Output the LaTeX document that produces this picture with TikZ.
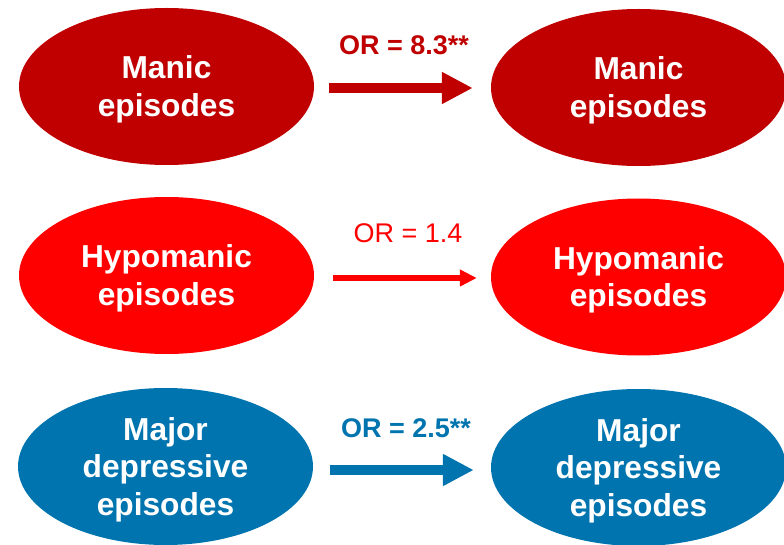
\documentclass[tikz,border=0pt]{standalone}
\usepackage{fontspec}
\setmainfont{Liberation Sans}
\usetikzlibrary{shapes.geometric,arrows.meta}
\definecolor{maniccol}{RGB}{192,0,0}
\definecolor{hypocol}{RGB}{255,0,0}
\definecolor{deprcol}{RGB}{0,116,174}
\begin{document}
\begin{tikzpicture}[x=1pt,y=-1pt,
  blob/.style={ellipse, minimum width=295pt, minimum height=157pt, inner sep=0pt, draw=none},
  blobtext/.style={text=white, font=\fontsize{31.7}{37.5}\selectfont\bfseries, align=center, inner sep=0pt},
  ortext/.style={font=\fontsize{27}{32}\selectfont, anchor=base, inner sep=0pt},
  thickarrow/.style={line width=10.5pt, -{Triangle[length=31pt,width=30pt]}},
  thinarrow/.style={line width=5.5pt, -{Triangle[length=17pt,width=16pt]}}]
\useasboundingbox (0,0) rectangle (784,545);
% ellipses
\node[blob, fill=maniccol] (L1) at (166.5,86.5) {};
\node[blob, fill=maniccol] (R1) at (638.5,87.5) {};
\node[blob, fill=hypocol] (L2) at (166.5,275.5) {};
\node[blob, fill=hypocol] (R2) at (638.5,277) {};
\node[blob, fill=deprcol] (L3) at (165.5,466.5) {};
\node[blob, fill=deprcol] (R3) at (638.5,467.5) {};
% texts
\node[blobtext] (tL1) at ([yshift=-3pt]L1.center) {Manic\\episodes};
\node[blobtext] (tR1) at ([yshift=-3pt]R1.center) {Manic\\episodes};
\node[blobtext] (tL2) at ([yshift=-3pt]L2.center) {Hypomanic\\episodes};
\node[blobtext] (tR2) at ([yshift=-3pt]R2.center) {Hypomanic\\episodes};
\node[blobtext] (tL3) at ([yshift=-3pt]L3.center) {Major\\depressive\\episodes};
\node[blobtext] (tR3) at ([yshift=-3pt]R3.center) {Major\\depressive\\episodes};
% arrows
\draw[thickarrow, draw=maniccol, fill=maniccol, shorten <=15pt, shorten >=18pt]
  ([yshift=-1.5pt]L1.east) -- ([yshift=-1.5pt]L1.east -| R1.west);
\draw[thinarrow, draw=hypocol, fill=hypocol, shorten <=19pt, shorten >=14pt]
  ([yshift=-2.5pt]L2.east) -- ([yshift=-2.5pt]L2.east -| R2.west);
\draw[thickarrow, draw=deprcol, fill=deprcol, shorten <=17pt, shorten >=17pt]
  ([yshift=-3.5pt]L3.east) -- ([yshift=-3.5pt]L3.east -| R3.west);
% labels
\node[ortext, text=maniccol, font=\fontsize{27}{32}\selectfont\bfseries] (or1) at (404,55) {OR = 8.3**};
\node[ortext, text=hypocol] (or2) at (408,243) {OR = 1.4};
\node[ortext, text=deprcol, font=\fontsize{27}{32}\selectfont\bfseries] (or3) at (406,437) {OR = 2.5**};
\end{tikzpicture}
\end{document}
